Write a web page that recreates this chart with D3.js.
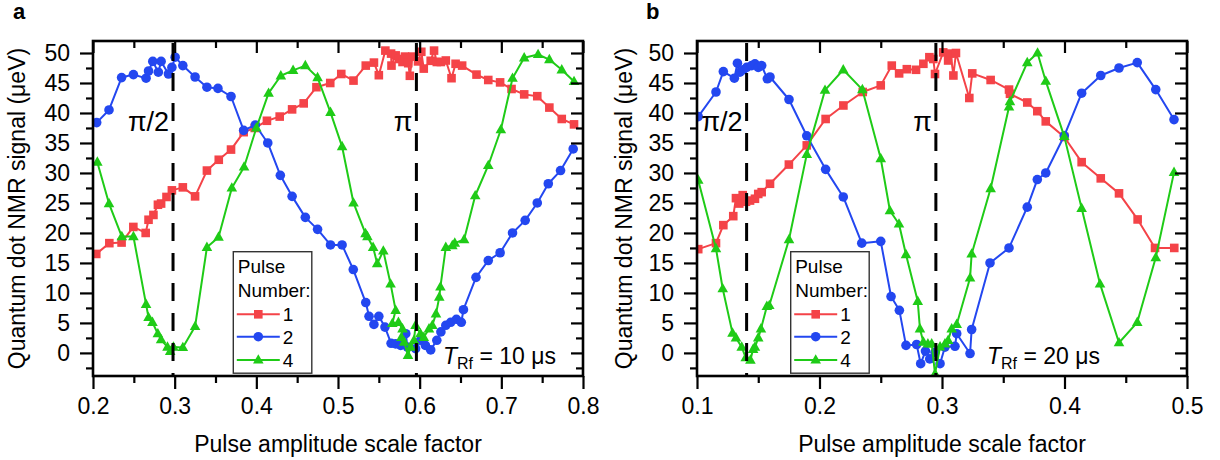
<!DOCTYPE html>
<html><head><meta charset="utf-8">
<script src="https://cdn.jsdelivr.net/npm/d3@7"></script>
<style>
body{margin:0;background:#fff}
svg{display:block}
text{font-family:"Liberation Sans",Arial,Helvetica,sans-serif;fill:#000}
</style>
</head><body>
<svg id="chart" width="1220" height="460"></svg>
<script>
// ---------------- DATA ----------------
const seriesNames = ["1", "2", "4"];
const yTickValues = [0, 5, 10, 15, 20, 25, 30, 35, 40, 45, 50];
const xTickValuesA = [0.2, 0.3, 0.4, 0.5, 0.6, 0.7, 0.8];
const xTickValuesB = [0.1, 0.2, 0.3, 0.4, 0.5];
const piLinesA = [0.298, 0.596];
const piLinesB = [0.1405, 0.295];
const piLabels = ["π/2", "π"];
const trfA = "10";
const trfB = "20";

// Panel a, T_Rf = 10 us
const aPulse1 = [[0.204,16.5],[0.220,18.3],[0.235,18.4],[0.2494,21.0],[0.2645,20.0],[0.268,22.2],[0.274,23.0],[0.2795,24.7],[0.2834,24.9],[0.290,26.0],[0.2966,27.1],[0.310,27.6],[0.325,26.1],[0.3395,30.4],[0.354,32.2],[0.369,33.9],[0.3845,36.8],[0.398,37.5],[0.413,38.7],[0.4286,39.4],[0.4438,40.6],[0.458,41.6],[0.4736,44.3],[0.4905,45.0],[0.504,46.5],[0.519,45.4],[0.534,47.9],[0.544,48.4],[0.550,46.3],[0.558,50.4],[0.565,49.9],[0.5655,47.9],[0.5706,49.6],[0.575,49.0],[0.579,48.5],[0.582,49.4],[0.586,48.3],[0.588,46.2],[0.591,49.4],[0.598,48.6],[0.602,50.2],[0.605,47.4],[0.6135,48.7],[0.6176,50.4],[0.621,48.5],[0.626,48.5],[0.632,48.75],[0.639,45.8],[0.644,48.2],[0.652,47.9],[0.6696,46.4],[0.684,45.5],[0.6985,45.1],[0.7125,44.0],[0.728,43.1],[0.744,42.8],[0.7588,40.9],[0.774,39.0],[0.789,38.1]];
const aPulse2 = [[0.2045,38.4],[0.2196,40.5],[0.235,45.9],[0.2495,46.4],[0.265,45.8],[0.268,47.0],[0.2732,48.6],[0.280,46.8],[0.2834,48.6],[0.2924,46.5],[0.2966,47.6],[0.3006,49.3],[0.310,47.9],[0.325,46.0],[0.3395,44.3],[0.353,44.1],[0.369,42.75],[0.3845,37.1],[0.3988,38.0],[0.414,35.0],[0.4294,29.6],[0.4438,26.1],[0.460,22.6],[0.475,20.6],[0.4908,18.0],[0.505,18.0],[0.5187,13.9],[0.534,8.4],[0.538,6.1],[0.544,4.75],[0.550,6.1],[0.5575,4.3],[0.565,1.6],[0.5706,1.5],[0.5767,1.25],[0.583,3.2],[0.585,0.97],[0.595,0.7],[0.601,2.1],[0.607,1.25],[0.6135,0.5],[0.621,2.1],[0.626,3.5],[0.632,4.6],[0.638,5.1],[0.645,5.6],[0.651,5.1],[0.6536,7.2],[0.669,12.6],[0.684,15.4],[0.6985,16.7],[0.7137,20.0],[0.7292,22.1],[0.744,25.0],[0.7575,28.2],[0.7725,30.4],[0.788,34.0]];
const aPulse4 = [[0.2053,31.8],[0.2196,24.9],[0.2353,19.4],[0.2495,19.4],[0.265,8.1],[0.268,5.9],[0.2728,5.1],[0.2794,3.2],[0.2834,2.2],[0.2912,0.97],[0.2945,0.25],[0.2985,0.97],[0.310,0.9],[0.325,4.4],[0.3395,17.6],[0.3537,19.3],[0.370,27.5],[0.385,31.0],[0.400,37.5],[0.415,43.3],[0.430,46.2],[0.445,47.1],[0.460,47.9],[0.475,45.9],[0.4908,40.1],[0.505,34.4],[0.519,25.0],[0.5337,19.9],[0.536,19.4],[0.543,17.6],[0.548,14.9],[0.5555,17.0],[0.5644,11.5],[0.5706,7.1],[0.5665,4.9],[0.574,5.1],[0.579,4.0],[0.5776,2.6],[0.581,1.8],[0.5857,-0.4],[0.589,0.97],[0.593,2.1],[0.595,4.6],[0.601,3.2],[0.605,2.6],[0.6114,4.0],[0.6155,4.6],[0.620,6.5],[0.624,9.3],[0.6254,11.0],[0.632,17.6],[0.640,17.9],[0.643,18.3],[0.6544,18.9],[0.668,26.2],[0.684,31.25],[0.6994,37.2],[0.7137,45.8],[0.728,49.2],[0.745,49.75],[0.7588,48.9],[0.774,47.2],[0.789,45.25]];

// Panel b, T_Rf = 20 us
const bPulse1 = [[0.101,17.3],[0.1155,18.3],[0.1215,21.3],[0.1296,22.8],[0.1318,25.8],[0.1345,24.9],[0.1373,26.3],[0.140,25.2],[0.1433,25.4],[0.1473,25.7],[0.150,26.5],[0.1528,26.8],[0.1596,28.2],[0.175,31.4],[0.1896,34.6],[0.205,39.0],[0.2195,41.25],[0.2353,43.5],[0.250,44.6],[0.259,47.9],[0.265,46.6],[0.2713,47.3],[0.2788,47.2],[0.2848,48.2],[0.2897,49.3],[0.2929,49.0],[0.2943,46.5],[0.301,50.1],[0.305,48.75],[0.307,49.9],[0.3093,46.25],[0.3114,50.0],[0.3223,42.5],[0.3247,46.6],[0.3397,45.5],[0.3547,43.9],[0.3555,43.2],[0.3696,41.75],[0.3778,40.3],[0.3847,38.6],[0.3998,36.0],[0.414,31.8],[0.4296,29.1],[0.4445,26.6],[0.4597,22.25],[0.4739,17.5],[0.4896,17.5]];
const bPulse2 = [[0.101,39.4],[0.1155,43.5],[0.1215,46.9],[0.1305,45.8],[0.133,48.3],[0.135,46.8],[0.1378,47.2],[0.1406,47.6],[0.1446,47.9],[0.1473,48.2],[0.150,47.6],[0.1528,47.9],[0.1574,45.7],[0.1596,46.0],[0.1751,42.25],[0.1896,36.2],[0.205,30.6],[0.2194,26.0],[0.2345,18.3],[0.250,18.6],[0.2584,9.4],[0.2652,7.1],[0.2706,1.25],[0.2793,1.4],[0.2826,-1.8],[0.2865,0.3],[0.290,-1.0],[0.2943,0.1],[0.2984,-1.8],[0.3024,0.97],[0.3106,1.1],[0.312,3.2],[0.3229,-0.1],[0.3242,3.9],[0.3392,15.0],[0.3547,17.5],[0.3696,24.3],[0.3778,28.9],[0.3847,30.0],[0.3998,36.2],[0.414,43.3],[0.4296,46.25],[0.4445,47.5],[0.4594,48.4],[0.4745,43.9],[0.4894,38.9]];
const bPulse4 = [[0.101,28.8],[0.1155,17.4],[0.121,10.7],[0.129,3.3],[0.1318,2.5],[0.1365,0.97],[0.1398,-0.8],[0.1436,-1.2],[0.1458,0.6],[0.1473,0.97],[0.150,2.5],[0.1522,4.0],[0.157,7.75],[0.159,7.9],[0.1751,18.9],[0.1896,33.1],[0.2045,43.8],[0.2194,47.2],[0.235,43.9],[0.25,32.4],[0.2575,23.7],[0.2649,21.5],[0.2706,16.4],[0.2802,8.6],[0.282,4.0],[0.2848,1.8],[0.2885,1.5],[0.2916,1.5],[0.2943,-3.5],[0.2984,1.0],[0.3024,1.5],[0.305,2.1],[0.3079,4.0],[0.312,4.75],[0.3229,12.5],[0.3242,16.5],[0.3397,27.4],[0.3547,41.0],[0.3555,41.9],[0.3696,48.4],[0.378,50.0],[0.3847,45.3],[0.3998,36.1],[0.414,24.1],[0.429,11.5],[0.4445,1.7],[0.4594,5.1],[0.4745,15.9],[0.4894,30.1]];

// ---------------- DRAW ----------------
const colors = ["#f44348", "#2347f0", "#1fcb17"];
const shapes = ["square", "circle", "triangle"];
const svg = d3.select("#chart");
const Y0 = 41, Y1 = 376;

function marker(g, shape, cx, cy, color) {
  if (shape === "square") {
    g.append("rect").attr("x", cx - 4.3).attr("y", cy - 4.3).attr("width", 8.6).attr("height", 8.6).attr("fill", color);
  } else if (shape === "circle") {
    g.append("circle").attr("cx", cx).attr("cy", cy).attr("r", 4.8).attr("fill", color);
  } else {
    g.append("path").attr("d", `M${cx},${cy - 5.8}L${cx + 5.3},${cy + 3.6}L${cx - 5.3},${cy + 3.6}Z`).attr("fill", color);
  }
}

function drawPanel(p) {
  const x = d3.scaleLinear().domain(p.xDomain).range([p.x0, p.x1]);
  const y = d3.scaleLinear().domain([-3.85, 52]).range([Y1, Y0]);
  const g = svg.append("g");
  const clipId = "clip" + p.id;
  svg.append("defs").append("clipPath").attr("id", clipId)
    .append("rect").attr("x", p.x0).attr("y", Y0).attr("width", p.x1 - p.x0).attr("height", Y1 - Y0);
  const plot = g.append("g").attr("clip-path", `url(#${clipId})`);

  const line = d3.line().x(d => x(d[0])).y(d => y(d[1]));
  p.series.forEach((s, i) => {
    plot.append("path").datum(s).attr("d", line).attr("fill", "none")
      .attr("stroke", colors[i]).attr("stroke-width", 2).attr("stroke-linejoin", "round");
    const mg = plot.append("g");
    s.forEach(d => marker(mg, shapes[i], x(d[0]), y(d[1]), colors[i]));
  });

  // dashed pi lines
  p.piLines.forEach(v => {
    g.append("line").attr("x1", x(v)).attr("x2", x(v)).attr("y1", Y0 + 2).attr("y2", Y1)
      .attr("stroke", "#000").attr("stroke-width", 3).attr("stroke-dasharray", "18,12");
  });

  // axes with ticks
  const major = p.xTicks;
  const minorX = major.slice(1).map((v, i) => (v + major[i]) / 2);
  const minorY = [-2.5].concat(yTickValues.slice(1).map((v, i) => (v + yTickValues[i]) / 2));
  const fmt = d3.format(".1f");

  g.append("g").attr("transform", `translate(0,${Y1})`)
    .call(d3.axisBottom(x).tickValues(major).tickFormat(fmt).tickSize(13).tickPadding(9));
  g.append("g").attr("transform", `translate(0,${Y1})`)
    .call(d3.axisBottom(x).tickValues(minorX).tickFormat("").tickSize(7));
  g.append("g").attr("transform", `translate(0,${Y0})`)
    .call(d3.axisBottom(x).tickValues(major).tickFormat("").tickSize(12));
  g.append("g").attr("transform", `translate(0,${Y0})`)
    .call(d3.axisBottom(x).tickValues(minorX).tickFormat("").tickSize(7));
  g.append("g").attr("transform", `translate(${p.x0},0)`)
    .call(d3.axisLeft(y).tickValues(yTickValues).tickFormat(d3.format("d")).tickSize(13).tickPadding(10));
  g.append("g").attr("transform", `translate(${p.x0},0)`)
    .call(d3.axisLeft(y).tickValues(minorY).tickFormat("").tickSize(7));
  g.append("g").attr("transform", `translate(${p.x1},0)`)
    .call(d3.axisLeft(y).tickValues(yTickValues).tickFormat("").tickSize(12));
  g.append("g").attr("transform", `translate(${p.x1},0)`)
    .call(d3.axisLeft(y).tickValues(minorY).tickFormat("").tickSize(7));

  g.selectAll(".domain").remove();
  g.selectAll(".tick line").attr("stroke", "#000").attr("stroke-width", 2.2);
  g.selectAll(".tick text").attr("font-size", 23).attr("font-family", '"Liberation Sans",Arial,sans-serif').attr("fill", "#000");

  g.append("rect").attr("x", p.x0).attr("y", Y0).attr("width", p.x1 - p.x0).attr("height", Y1 - Y0)
    .attr("fill", "none").attr("stroke", "#000").attr("stroke-width", 2.6);

  // axis titles
  g.append("text").attr("x", (p.x0 + p.x1) / 2).attr("y", 452).attr("text-anchor", "middle")
    .attr("font-size", 23).text("Pulse amplitude scale factor");
  g.append("text").attr("transform", `translate(${p.yTitleX},${(Y0 + Y1) / 2}) rotate(-90)`)
    .attr("text-anchor", "middle").attr("font-size", 23).text("Quantum dot NMR signal (μeV)");

  // panel letter
  g.append("text").attr("x", p.letterX).attr("y", 19).attr("font-size", 22).attr("font-weight", "bold").text(p.letter);

  // pi labels
  p.piLines.forEach((v, i) => {
    g.append("text").attr("x", x(v) - 4).attr("y", 131).attr("text-anchor", "end")
      .attr("font-size", 27).text(piLabels[i]);
  });

  // T_Rf label
  const t = g.append("text").attr("x", p.trfX).attr("y", 364).attr("font-size", 23);
  t.append("tspan").attr("font-style", "italic").text("T");
  t.append("tspan").attr("font-size", 16).attr("dy", 5).text("Rf");
  t.append("tspan").attr("dy", -5).text(" = " + p.trf + " μs");

  // legend
  const bx = p.legendX, by = 251.7;
  const lg = g.append("g");
  lg.append("rect").attr("x", bx).attr("y", by).attr("width", 78.5).attr("height", 121.5)
    .attr("fill", "#fff").attr("stroke", "#333").attr("stroke-width", 1.4);
  lg.append("text").attr("x", bx + 4.5).attr("y", by + 21.5).attr("font-size", 19).text("Pulse");
  lg.append("text").attr("x", bx + 4.5).attr("y", by + 44.8).attr("font-size", 19).text("Number:");
  [62.6, 85, 108.3].forEach((dy, i) => {
    const yy = by + dy;
    lg.append("line").attr("x1", bx + 3.5).attr("x2", bx + 46.5).attr("y1", yy).attr("y2", yy)
      .attr("stroke", colors[i]).attr("stroke-width", 2);
    marker(lg, shapes[i], bx + 25, yy, colors[i]);
    lg.append("text").attr("x", bx + 49.5).attr("y", yy + 7).attr("font-size", 19).text(seriesNames[i]);
  });
}

drawPanel({id: "a", letter: "a", letterX: 13, x0: 93, x1: 583, xDomain: [0.2, 0.8], xTicks: xTickValuesA,
  series: [aPulse1, aPulse2, aPulse4], piLines: piLinesA, trf: trfA, trfX: 443, legendX: 233.3, yTitleX: 25});
drawPanel({id: "b", letter: "b", letterX: 646, x0: 697, x1: 1187, xDomain: [0.1, 0.5], xTicks: xTickValuesB,
  series: [bPulse1, bPulse2, bPulse4], piLines: piLinesB, trf: trfB, trfX: 987, legendX: 790.7, yTitleX: 632});
</script>
</body></html>
